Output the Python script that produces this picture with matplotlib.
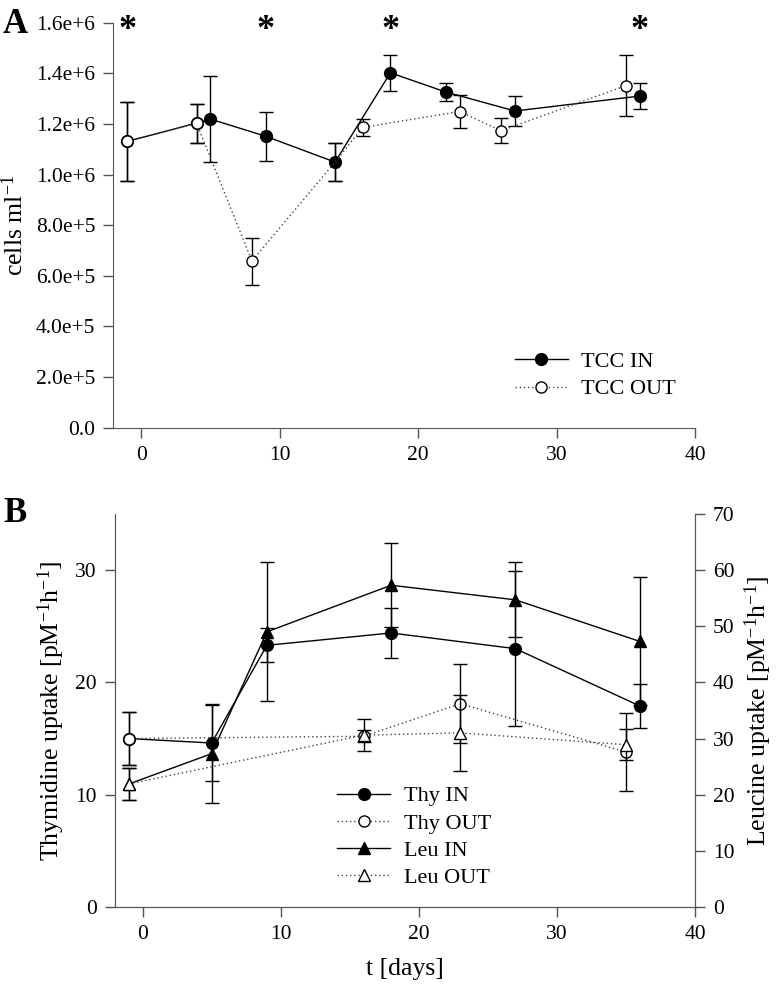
import matplotlib.pyplot as plt
from matplotlib.ticker import FuncFormatter

plt.rcParams['font.family'] = 'Liberation Serif'
plt.rcParams['mathtext.fontset'] = 'custom'
plt.rcParams['mathtext.rm'] = 'Liberation Serif'
plt.rcParams['mathtext.default'] = 'regular'

# Panel A: total cell counts
tcc_in_days = [-1, 4, 5, 9, 14, 18, 22, 27, 36]
tcc_in = [1.131e6, 1.203e6, 1.219e6, 1.151e6, 1.049e6, 1.402e6, 1.326e6, 1.251e6, 1.310e6]
tcc_in_err = [0.157e6, 0.077e6, 0.171e6, 0.097e6, 0.075e6, 0.071e6, 0.037e6, 0.060e6, 0.050e6]
tcc_out_days = [-1, 4, 8, 14, 16, 23, 26, 35]
tcc_out = [1.131e6, 1.203e6, 0.658e6, 1.049e6, 1.186e6, 1.249e6, 1.173e6, 1.351e6]
tcc_out_err = [0.157e6, 0.077e6, 0.093e6, 0.075e6, 0.032e6, 0.066e6, 0.050e6, 0.120e6]
star_days = [-1, 9, 18, 36]

# Panel B: thymidine (left axis) and leucine (right axis) uptake
thy_in_days = [-1, 5, 9, 18, 27, 36]
thy_in = [15.0, 14.6, 23.3, 24.4, 23.0, 17.9]
thy_in_err = [2.4, 3.35, 1.5, 2.25, 6.9, 1.95]
thy_out_days = [-1, 16, 23, 35]
thy_out = [15.0, 15.2, 18.1, 13.8]
thy_out_err = [2.4, 0.55, 3.5, 3.45]
leu_in_days = [-1, 5, 9, 18, 27, 36]
leu_in = [21.9, 27.3, 49.0, 57.3, 54.7, 47.3]
leu_in_err = [2.8, 8.8, 12.4, 7.5, 6.7, 11.4]
leu_out_days = [-1, 16, 23, 35]
leu_out = [21.9, 30.6, 31.0, 28.9]
leu_out_err = [2.8, 2.9, 6.8, 2.8]

dot = (0, (1, 2))
eb = dict(ecolor='k', elinewidth=1, capsize=5, capthick=1, lw=1, mec='k')
leg = dict(loc='center left', frameon=False, fontsize=16, handlelength=2.4,
           handletextpad=0.6, labelspacing=0.3, borderpad=0, borderaxespad=0)

fig = plt.figure(figsize=(7.8, 9.91), dpi=100)

# ---- panel A
axA = fig.add_axes([0.1455, 0.5686, 0.7455, 0.4085])
a1 = axA.errorbar(tcc_in_days, tcc_in, yerr=tcc_in_err, fmt='-o', color='k', mfc='k',
                  ms=8.5, zorder=2, **eb)
a2 = axA.errorbar(tcc_out_days, tcc_out, yerr=tcc_out_err, fmt='o', ls=dot, color='#444444',
                  mfc='white', ms=8, markevery=[0, 1, 2, 4, 5, 6, 7], zorder=3, **eb)
for d in star_days:
    axA.text(d, 1.57e6, '*', fontsize=26, ha='center', va='center', fontweight='bold')
axA.set_xlim(-2, 40)
axA.set_ylim(0, 1.6e6)
axA.set_xticks([0, 10, 20, 30, 40])
axA.set_yticks([i * 2e5 for i in range(9)])
axA.yaxis.set_major_formatter(FuncFormatter(lambda v, p: '0.0' if v == 0 else ('%.1e' % v).replace('e+0', 'e+')))
axA.set_ylabel('cells ml$^{-1}$', fontsize=18.5, labelpad=6)
axA.legend([a1[0], a2[0]], ['TCC IN', 'TCC OUT'], bbox_to_anchor=(0.66, 0.621),
           bbox_transform=fig.transFigure, **leg)
for s in ['top', 'right']:
    axA.spines[s].set_visible(False)

# ---- panel B
axB = fig.add_axes([0.1474, 0.0848, 0.7436, 0.3966])
axB2 = axB.twinx()
h1 = axB.errorbar(thy_in_days, thy_in, yerr=thy_in_err, fmt='-o', color='k', mfc='k',
                  ms=8.5, zorder=2, **eb)
h2 = axB.errorbar(thy_out_days, thy_out, yerr=thy_out_err, fmt='o', ls=dot, color='#444444',
                  mfc='white', ms=8, zorder=3, **eb)
h3 = axB2.errorbar(leu_in_days, leu_in, yerr=leu_in_err, fmt='-^', color='k', mfc='k',
                   ms=8.5, zorder=2, **eb)
h4 = axB2.errorbar(leu_out_days, leu_out, yerr=leu_out_err, fmt='^', ls=dot, color='#444444',
                   mfc='white', ms=8, zorder=3, **eb)
axB.set_xlim(-2, 40)
axB.set_ylim(0, 35)
axB2.set_ylim(0, 70)
axB.set_xticks([0, 10, 20, 30, 40])
axB.set_yticks([0, 10, 20, 30])
axB2.set_yticks(range(0, 80, 10))
axB.set_ylabel('Thymidine uptake [pM$^{-1}$h$^{-1}$]', fontsize=18.5, labelpad=6)
axB2.set_ylabel('Leucine uptake [pM$^{-1}$h$^{-1}$]', fontsize=18.5, labelpad=6)
axB.set_xlabel('t [days]', fontsize=18.5, labelpad=10)
axB2.legend([h1[0], h2[0], h3[0], h4[0]], ['Thy IN', 'Thy OUT', 'Leu IN', 'Leu OUT'],
            bbox_to_anchor=(0.432, 0.1554), bbox_transform=fig.transFigure, **leg)
for a in (axB, axB2):
    a.spines['top'].set_visible(False)

for a in (axA, axB, axB2):
    a.tick_params(direction='out', length=7, width=1, labelsize=15.5, pad=6, color='#555555')
    for s in a.spines.values():
        s.set_color('#555555')

fig.text(0.004, 0.992, 'A', fontsize=25, fontweight='bold', va='top')
fig.text(0.004, 0.498, 'B', fontsize=25, fontweight='bold', va='top')

fig.savefig('out.png', dpi=100)
